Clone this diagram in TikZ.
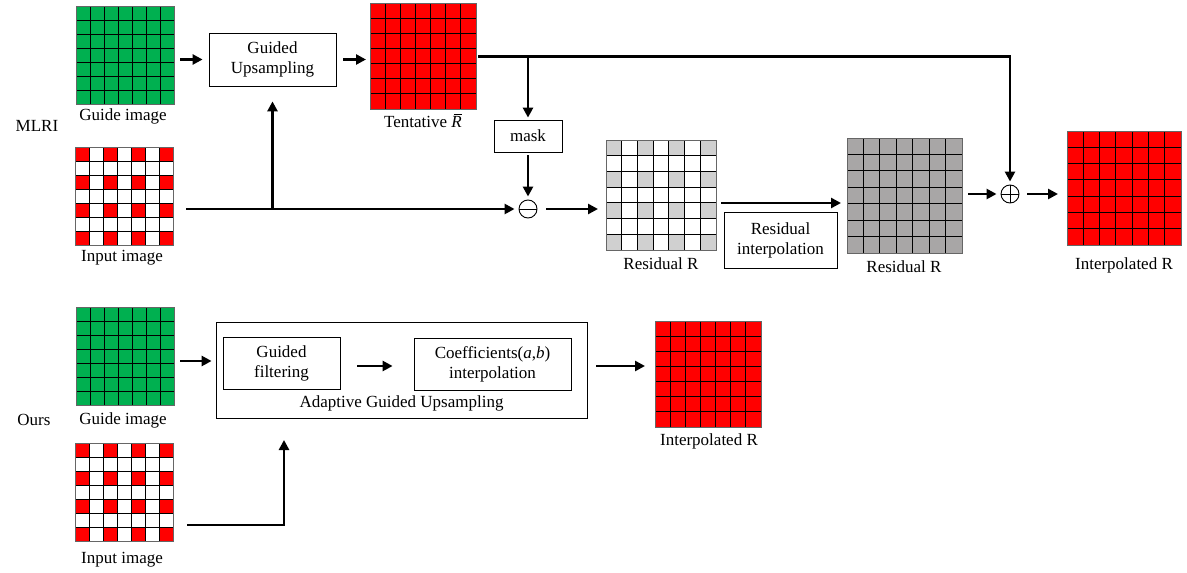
\documentclass[tikz,border=0pt]{standalone}
\usepackage{fontspec}
\setmainfont{Liberation Serif}
\usetikzlibrary{calc,arrows.meta}
\definecolor{gridgreen}{HTML}{00B050}
\definecolor{gridred}{HTML}{FF0000}
\definecolor{lightgr}{HTML}{D0D0D0}
\definecolor{midgr}{HTML}{A8A6A6}
\newcommand{\gridimg}[6]{%
  \node[fill=#5, minimum width=#4pt, minimum height=#4pt, inner sep=0pt, anchor=north west] (#1) at (#2,#3) {};
  \foreach \i in {0,2,4,6} {\foreach \j in {0,2,4,6} {%
    \fill[#6] (#2+\i*#4/7,#3+\j*#4/7) rectangle ++(#4/7,#4/7);}}
  \foreach \k in {1,...,6} {%
    \draw[gridline] (#2+\k*#4/7,#3) -- ++(0,#4);
    \draw[gridline] (#2,#3+\k*#4/7) -- ++(#4,0);}
  \draw[black!60, line width=1pt] (#2,#3) rectangle ++(#4,#4);
}
\begin{document}
\begin{tikzpicture}[x=1pt,y=-1pt,
  gridline/.style={black, line width=1pt},
  box/.style={draw, line width=0.8pt, align=center, inner sep=0pt, font=\fontsize{17}{20}\selectfont},
  lbl/.style={font=\fontsize{17}{20}\selectfont, inner sep=0pt},
  opminus/.style={circle, draw, line width=0.9pt, minimum size=18pt, inner sep=0pt,
    path picture={\draw[line width=0.9pt] (path picture bounding box.west) -- (path picture bounding box.east);}},
  opplus/.style={circle, draw, line width=0.9pt, minimum size=18pt, inner sep=0pt,
    path picture={\draw[line width=0.9pt] (path picture bounding box.west) -- (path picture bounding box.east)
      (path picture bounding box.north) -- (path picture bounding box.south);}},
  arr/.style={line width=2.7pt, -{Triangle[length=10pt,width=10pt]}}]
\useasboundingbox (0,0) rectangle (1187,573);

% ---------- MLRI ----------
\node[lbl] (mlri) at (37,126) {MLRI};
\gridimg{gtop}{76}{6}{98}{gridgreen}{gridgreen}
\node[lbl] (gtopl) at (123,116) {Guide image};
\gridimg{itop}{75}{147}{98}{white}{gridred}
\node[lbl] (itopl) at (122,258) {Input image};

\node[box, minimum width=127pt, minimum height=53pt] (gu) at (272.5,59.5) {Guided\\Upsampling};
\gridimg{tr}{370}{3}{106}{gridred}{gridred}
\node[lbl] (trl) at (423,121) {Tentative \rlap{\hspace{2.5pt}\raisebox{13pt}{\rule{8.5pt}{0.8pt}}}\textit{R}};

\node[box, minimum width=68pt, minimum height=32pt] (mask) at (528,136) {mask};
\node[opminus] (minus) at (528,209) {};

\gridimg{ra}{606}{140}{110}{white}{lightgr}
\node[lbl] (ral) at (661,264) {Residual R};
\node[box, minimum width=113pt, minimum height=56pt] (ri) at (780.5,240) {Residual\\interpolation};
\gridimg{rb}{847}{138}{115}{midgr}{midgr}
\node[lbl] (rbl) at (904,267) {Residual R};

\node[opplus] (plus) at (1010,194) {};
\gridimg{ira}{1067}{131}{114}{gridred}{gridred}
\node[lbl] (iral) at (1124,265) {Interpolated R};

% helper coordinates
\coordinate (a1) at ($(gtop.east)+(6,0)$);
\coordinate (a2) at ($(gu.west)+(-6,0)$);
\draw[arr] (a1 |- gu.west) -- (a2);
\coordinate (b1) at ($(gu.east)+(7,0)$);
\coordinate (b2) at ($(tr.west)+(-4,0)$);
\draw[arr] (b1) -- (b2 |- gu.east);
\coordinate (c1) at ($(tr.east)+(2,0)$);
\coordinate (c3) at ($(plus.north)+(0,-3)$);
\draw[arr] (c1) -- (plus.north |- tr.east) -- (c3);
\coordinate (m1) at ($(mask.north)+(0,-2)$);
\draw[arr] (mask.north |- tr.east) -- (m1);
\coordinate (m2) at ($(mask.south)+(0,3)$);
\coordinate (m3) at ($(minus.north)+(0,-3)$);
\draw[arr] (m2) -- (m3);
\coordinate (i0) at ($(itop.east)+(13,0)$);
\coordinate (i2) at ($(minus.west)+(-4,0)$);
\draw[arr] (i0 |- minus.west) -- (i2);
\coordinate (g1) at ($(gu.south)+(0,15)$);
\draw[arr] (gu.south |- minus.west) -- (g1);
\coordinate (d1) at ($(minus.east)+(9,0)$);
\coordinate (d2) at ($(ra.west)+(-8,0)$);
\draw[arr] (d1) -- (d2 |- minus.east);
\coordinate (ylev) at (0,203);
\coordinate (e1) at ($(ra.east)+(5,0)$);
\coordinate (e2) at ($(rb.west)+(-6,0)$);
\draw[arr] (e1 |- ylev) -- (e2 |- ylev);
\coordinate (f1) at ($(rb.east)+(6,0)$);
\coordinate (f2) at ($(plus.west)+(-4,0)$);
\draw[arr] (f1 |- plus.west) -- (f2);
\coordinate (h1) at ($(plus.east)+(8,0)$);
\coordinate (h2) at ($(ira.west)+(-9,0)$);
\draw[arr] (h1) -- (h2 |- plus.east);

% ---------- Ours ----------
\node[lbl] (ours) at (34,420) {Ours};
\gridimg{gbot}{76}{307}{98}{gridgreen}{gridgreen}
\node[lbl] (gbotl) at (123,420) {Guide image};
\gridimg{ibot}{75}{443}{98}{white}{gridred}
\node[lbl] (ibotl) at (122,560) {Input image};

\node[draw, line width=0.8pt, minimum width=371pt, minimum height=96pt, inner sep=0pt] (agu) at (401.5,370) {};
\node[lbl] (agul) at (401.5,403) {Adaptive Guided Upsampling};
\node[box, minimum width=117pt, minimum height=52pt] (gf) at (281.5,363) {Guided\\filtering};
\node[box, minimum width=157pt, minimum height=52pt] (cf) at (492.5,364) {Coefficients(\textit{a},\textit{b})\\interpolation};
\gridimg{irb}{655}{321}{106}{gridred}{gridred}
\node[lbl] (irbl) at (709,441) {Interpolated R};

\coordinate (ylb1) at (0,361);
\coordinate (ylb2) at (0,366);
\coordinate (p1) at ($(gbot.east)+(6,0)$);
\coordinate (p2) at ($(agu.west)+(-4,0)$);
\draw[arr] (p1 |- ylb1) -- (p2 |- ylb1);
\coordinate (q1) at ($(gf.east)+(17,0)$);
\coordinate (q2) at ($(cf.west)+(-21,0)$);
\draw[arr] (q1 |- ylb2) -- (q2 |- ylb2);
\coordinate (r1) at ($(agu.east)+(9,0)$);
\coordinate (r2) at ($(irb.west)+(-10,0)$);
\draw[arr] (r1 |- ylb2) -- (r2 |- ylb2);
\coordinate (ylb3) at (0,525);
\coordinate (s0) at ($(ibot.east)+(14,0)$);
\coordinate (bcorner) at (284,525);
\coordinate (s2) at (284,440);
\draw[arr] (s0 |- ylb3) -- (bcorner) -- (s2);
\end{tikzpicture}
\end{document}
